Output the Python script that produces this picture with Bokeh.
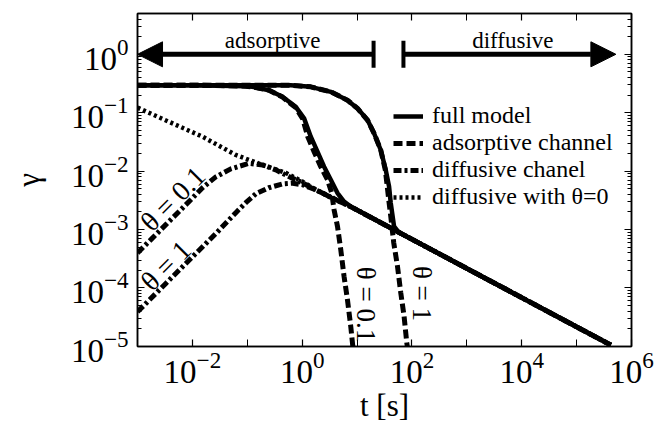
from bokeh.plotting import figure
from bokeh.models import (Range1d, LogAxis, FixedTicker, Arrow, NormalHead, TeeHead,
                          Label, Legend, LegendItem, CustomJSTickFormatter)
from bokeh.embed import file_html
from bokeh.resources import INLINE
import math

FONT = "Liberation Serif"

# ---- curves: time t [s] and gamma -------------------------------------------
# full model, theta = 0.1
full_01_t = [1e-3, 1e-2, 0.094, 0.124, 0.249, 0.438, 0.764, 1.084, 1.435, 1.90,
             2.51, 3.32, 4.40, 5.79, 7.67, 10, 100, 1e3, 1e4, 1e5, 4.2e5]
full_01_g = [0.296, 0.296, 0.285, 0.277, 0.243, 0.187, 0.126, 0.080, 0.0388, 0.0215,
             0.0119, 0.0071, 0.0042, 0.0030, 0.00246, 0.00215, 6.8e-4, 2.15e-4, 6.8e-5,
             2.15e-5, 1.05e-5]

# full model, theta = 1
full_1_t = [1e-3, 0.1, 0.62, 1.435, 3.32, 6.68, 10.2, 15.5, 20.4, 27.0, 33.3, 38.3,
            41.1, 47.2, 57.5, 100, 1e3, 1e4, 1e5, 4.2e5]
full_1_g = [0.296, 0.296, 0.296, 0.277, 0.2275, 0.164, 0.1185, 0.0748, 0.0444, 0.023,
            0.0105, 0.00545, 0.00284, 0.00113, 8.9e-4, 6.8e-4, 2.15e-4, 6.8e-5, 2.15e-5,
            1.05e-5]

# adsorptive channel, theta = 0.1
ads_01_t = [1e-3, 1e-2, 0.094, 0.124, 0.249, 0.438, 0.764, 1.026, 1.265, 1.648, 2.18,
            2.89, 3.46, 3.81, 4.40, 5.05, 5.79, 6.68, 7.67, 8.36, 8.7]
ads_01_g = [0.296, 0.296, 0.285, 0.277, 0.243, 0.185, 0.122, 0.0778, 0.0388, 0.0215,
            0.0119, 0.0071, 0.0042, 0.00218, 0.00113, 4.5e-4, 1.58e-4, 6.3e-5, 2.2e-5,
            1.0e-5, 8.0e-6]

# adsorptive channel, theta = 1
ads_1_t = [1e-3, 0.1, 0.62, 1.435, 3.32, 6.68, 10.2, 15.5, 20.4, 27.0, 32.7, 35.5,
           37.8, 41.1, 46.6, 54.5, 62.5, 71.8, 80.4, 83.7]
ads_1_g = [0.296, 0.296, 0.296, 0.277, 0.2275, 0.164, 0.1185, 0.0748, 0.0444, 0.023,
           0.0105, 0.00545, 0.00323, 0.00168, 5.9e-4, 2.35e-4, 8.3e-5, 3.3e-5, 1.16e-5,
           8.9e-6]

# diffusive channel, theta = 0.1
dif_01_t = [1e-3, 1.75e-3, 3.28e-3, 5.65e-3, 9.35e-3, 0.0153, 0.0267, 0.05, 0.106,
            0.191, 0.330, 0.570, 1.01, 1.77, 3.77, 7.67, 100, 1e3, 1e4, 1e5, 4.2e5]
dif_01_g = [3.97e-4, 6.7e-4, 1.21e-3, 2.01e-3, 3.23e-3, 5.18e-3, 7.96e-3, 0.0109,
            0.01355, 0.01276, 0.0105, 0.00807, 0.0063, 0.00478, 0.00336, 0.00246,
            6.8e-4, 2.15e-4, 6.8e-5, 2.15e-5, 1.05e-5]

# diffusive channel, theta = 1
dif_1_t = [1e-3, 3.28e-3, 9.35e-3, 0.0267, 0.0618, 0.094, 0.143, 0.245, 0.444, 0.675,
           1.026, 1.77, 3.77, 7.67, 100, 1e3, 1e4, 1e5, 4.2e5]
dif_1_g = [3.89e-5, 1.19e-4, 3.18e-4, 8.49e-4, 1.94e-3, 2.87e-3, 4.08e-3, 5.18e-3,
           6.05e-3, 6.2e-3, 5.82e-3, 4.78e-3, 3.36e-3, 2.46e-3, 6.8e-4, 2.15e-4,
           6.8e-5, 2.15e-5, 1.05e-5]

# diffusive with theta = 0
dif_0_t = [1e-3, 3.72e-3, 0.0153, 0.0618, 0.189, 0.502, 1.01, 1.77, 3.77, 7.67, 100,
           1e3, 1e4, 1e5, 4.2e5]
dif_0_g = [0.122, 0.070, 0.0388, 0.0189, 0.01276, 0.00933, 0.00662, 0.00478, 0.00336,
           0.00246, 6.8e-4, 2.15e-4, 6.8e-5, 2.15e-5, 1.05e-5]

# regime spans along gamma = 1
regime_level = 1.0
adsorptive_span = (1e-3, 20.0)
diffusive_span = (70.0, 5.2e5)

# axis ticks (decade exponents)
x_label_exps = [-2, 0, 2, 4, 6]
x_plain_exps = [-3, -1, 1, 3, 5]
y_exps = [-5, -4, -3, -2, -1, 0]

# ---- figure ----------------------------------------------------------------
p = figure(width=655, height=426, x_axis_type="log", y_axis_type="log",
           x_range=Range1d(0.999e-3, 1.001e6), y_range=Range1d(0.99e-5, 5.0),
           output_backend="svg", toolbar_location=None,
           min_border_left=137, min_border_right=24, min_border_top=13,
           min_border_bottom=80)
p.grid.visible = False
p.outline_line_color = "black"
p.outline_line_width = 1.5
p.background_fill_color = "white"
p.border_fill_color = "white"

x_ticker = FixedTicker(ticks=[10.0 ** e for e in x_label_exps],
                       minor_ticks=[10.0 ** e for e in x_plain_exps])
y_minor = [k * 10.0 ** e for e in range(-5, 1) for k in range(2, 10)]
y_ticker = FixedTicker(ticks=[10.0 ** e for e in y_exps], minor_ticks=y_minor)

blank = CustomJSTickFormatter(code="return ''")


def style_axis(ax, ticker, labels=True, minor_len=4):
    ax.ticker = ticker
    ax.axis_line_width = 1.5
    ax.major_tick_in = 7
    ax.major_tick_out = 0
    ax.minor_tick_in = minor_len
    ax.minor_tick_out = 0
    ax.major_tick_line_width = 1.2
    ax.minor_tick_line_width = 1.0
    ax.major_label_text_font = FONT
    ax.major_label_text_color = "black"
    ax.major_label_text_font_size = "33px"
    if not labels:
        ax.formatter = blank
        ax.major_label_standoff = 0


style_axis(p.xaxis[0], x_ticker, minor_len=7)
style_axis(p.yaxis[0], y_ticker)
p.xaxis[0].major_label_standoff = 5
p.yaxis[0].major_label_standoff = 9

p.xaxis.axis_label = "t [s]"
p.yaxis.axis_label = "γ"
for ax in (p.xaxis[0], p.yaxis[0]):
    ax.axis_label_text_font = FONT
    ax.axis_label_text_font_size = "31px"
    ax.axis_label_text_font_style = "normal"
    ax.axis_label_text_color = "black"
p.xaxis[0].axis_label_standoff = 2
p.yaxis[0].axis_label_standoff = 22

top_ax = LogAxis()
style_axis(top_ax, x_ticker, labels=False, minor_len=7)
p.add_layout(top_ax, "above")
right_ax = LogAxis()
style_axis(right_ax, y_ticker, labels=False)
p.add_layout(right_ax, "right")

# ---- curves ------------------------------------------------------------------
r_dot = p.line(dif_0_t, dif_0_g, line_color="black", line_width=4.5, line_dash="3 3")
r_dd = p.line(dif_01_t, dif_01_g, line_color="black", line_width=5, line_dash="8 3 3 3")
p.line(dif_1_t, dif_1_g, line_color="black", line_width=5, line_dash="8 3 3 3")
r_dash = p.line(ads_01_t, ads_01_g, line_color="black", line_width=5, line_dash="9 4")
p.line(ads_1_t, ads_1_g, line_color="black", line_width=5, line_dash="9 4")
r_full = p.line(full_01_t, full_01_g, line_color="black", line_width=4.5)
p.line(full_1_t, full_1_g, line_color="black", line_width=4.5)

# ---- regime arrows -------------------------------------------------------------
for x0, x1 in ((adsorptive_span[1], adsorptive_span[0]),
               (diffusive_span[0], diffusive_span[1])):
    p.add_layout(Arrow(start=TeeHead(size=27, line_width=4, line_color="black"),
                       end=NormalHead(size=25, fill_color="black", line_color="black"),
                       x_start=x0, y_start=regime_level, x_end=x1, y_end=regime_level,
                       line_width=5, line_color="black"))

text_kw = dict(text_font=FONT, text_color="black", text_align="center")
p.add_layout(Label(x=0.29, y=1.75, text="adsorptive", text_font_size="23px",
                   text_baseline="alphabetic", **text_kw))
p.add_layout(Label(x=6900, y=1.75, text="diffusive", text_font_size="23px",
                   text_baseline="alphabetic", **text_kw))

# curve annotations
p.add_layout(Label(x=4.4e-3, y=3.36e-3, text="θ = 0.1", angle=math.pi / 4,
                   text_font_size="28px", text_baseline="middle", **text_kw))
p.add_layout(Label(x=3.28e-3, y=2.42e-4, text="θ = 1", angle=math.pi / 4,
                   text_font_size="28px", text_baseline="middle", **text_kw))
p.add_layout(Label(x=14.4, y=5.2e-5, text="θ = 0.1", angle=-math.pi / 2,
                   text_font_size="27px", text_baseline="middle", **text_kw))
p.add_layout(Label(x=151, y=8.0e-5, text="θ = 1", angle=-math.pi / 2,
                   text_font_size="27px", text_baseline="middle", **text_kw))

# ---- legend ------------------------------------------------------------------------
legend = Legend(items=[LegendItem(label="full model", renderers=[r_full]),
                       LegendItem(label="adsorptive channel", renderers=[r_dash]),
                       LegendItem(label="diffusive chanel", renderers=[r_dd]),
                       LegendItem(label="diffusive with θ=0", renderers=[r_dot])],
                location=(256, 136), label_text_font=FONT, label_text_font_size="24px",
                label_text_color="black", glyph_width=30, glyph_height=26,
                label_height=26, spacing=0, padding=0, margin=0, label_standoff=9,
                border_line_alpha=0, background_fill_alpha=0)
p.add_layout(legend)

open("out.html", "w").write(file_html(p, INLINE))
